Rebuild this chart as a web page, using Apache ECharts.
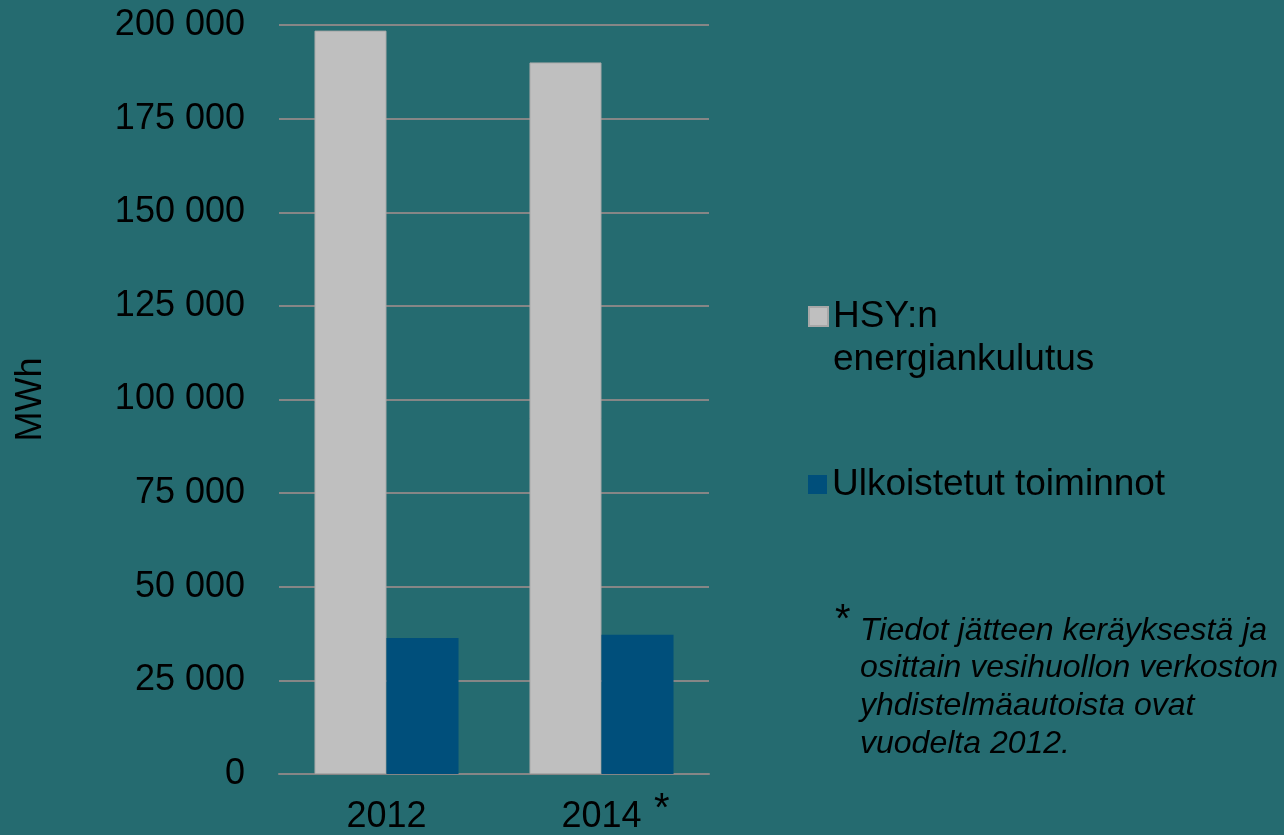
<!DOCTYPE html>
<html>
<head>
<meta charset="utf-8">
<script src="https://cdn.jsdelivr.net/npm/echarts@6/dist/echarts.min.js"></script>
<style>
  html, body { margin: 0; padding: 0; background: #256b70; }
  #main { width: 1284px; height: 835px; }
</style>
</head>
<body>
<div id="main"></div>
<script>
// data
const years = ['2012', '2014']
const hsyValues = [198500, 190000]        // HSY:n energiankulutus
const outsourcedValues = [36300, 37200]   // Ulkoistetut toiminnot
const seriesNames = ['HSY:n energiankulutus', 'Ulkoistetut toiminnot']
const yTicks = [0, 25000, 50000, 75000, 100000, 125000, 150000, 175000, 200000]
const footnoteLines = [
  'Tiedot jätteen keräyksestä ja',
  'osittain vesihuollon verkoston',
  'yhdistelmäautoista ovat',
  'vuodelta 2012.'
]

const FONT = 'Liberation Sans, Arial, sans-serif'
const GRID_COLOR = '#868686'

const chart = echarts.init(document.getElementById('main'))

const formatThousands = v => String(v).replace(/\B(?=(\d{3})+(?!\d))/g, ' ')

chart.setOption({
  backgroundColor: '#256b70',
  animation: false,
  color: ['#bfbfbf', '#004f7b'],
  grid: { left: 279, top: 25, width: 430, height: 750 },
  legend: [
    {
      // legend text is centred on the icon; a blank first line keeps "HSY:n" level with it
      data: [seriesNames[0]],
      left: 808, top: 252,
      padding: 0,
      icon: 'rect', itemWidth: 19, itemHeight: 19,
      formatter: name => '\n' + name.replace(' ', '\n'),
      textStyle: { color: '#000', fontSize: 37, fontFamily: FONT, lineHeight: 43 }
    },
    {
      data: [seriesNames[1]],
      left: 808, top: 463,
      padding: 0,
      icon: 'rect', itemWidth: 19, itemHeight: 19,
      textStyle: { color: '#000', fontSize: 37, fontFamily: FONT, lineHeight: 43 }
    }
  ],
  xAxis: {
    type: 'category',
    data: years,
    axisTick: { show: false },
    axisLine: { show: true, lineStyle: { color: GRID_COLOR, width: 2 } },
    axisLabel: { color: '#000', fontSize: 36, fontFamily: FONT, margin: 25 }
  },
  yAxis: {
    type: 'value',
    min: yTicks[0],
    max: yTicks[yTicks.length - 1],
    interval: yTicks[1] - yTicks[0],
    name: 'MWh',
    nameLocation: 'middle',
    nameRotate: 90,
    nameGap: 230,
    nameTextStyle: { color: '#000', fontSize: 36, fontFamily: FONT },
    axisLine: { show: false },
    axisTick: { show: false },
    axisLabel: { color: '#000', fontSize: 36, fontFamily: FONT, margin: 34, formatter: formatThousands },
    splitLine: { lineStyle: { color: GRID_COLOR, width: 2 } }
  },
  series: [
    {
      name: seriesNames[0],
      type: 'bar',
      data: hsyValues,
      barGap: '0%',
      barCategoryGap: '33%',
      itemStyle: { borderColor: '#a8a8a8', borderWidth: 1 }
    },
    {
      name: seriesNames[1],
      type: 'bar',
      data: outsourcedValues,
      barGap: '0%',
      barCategoryGap: '33%'
    }
  ],
  graphic: [
    // asterisk next to the 2014 label
    { type: 'text', left: 654, top: 790, style: { text: '*', fill: '#000', font: '40px ' + FONT } },
    // footnote
    { type: 'text', left: 835, top: 601, style: { text: '*', fill: '#000', font: '40px ' + FONT } },
    {
      type: 'text', left: 860, top: 612,
      style: {
        text: footnoteLines.join('\n'),
        fill: '#000',
        font: 'italic 32px ' + FONT,
        lineHeight: 37.7
      }
    }
  ]
})
</script>
</body>
</html>
